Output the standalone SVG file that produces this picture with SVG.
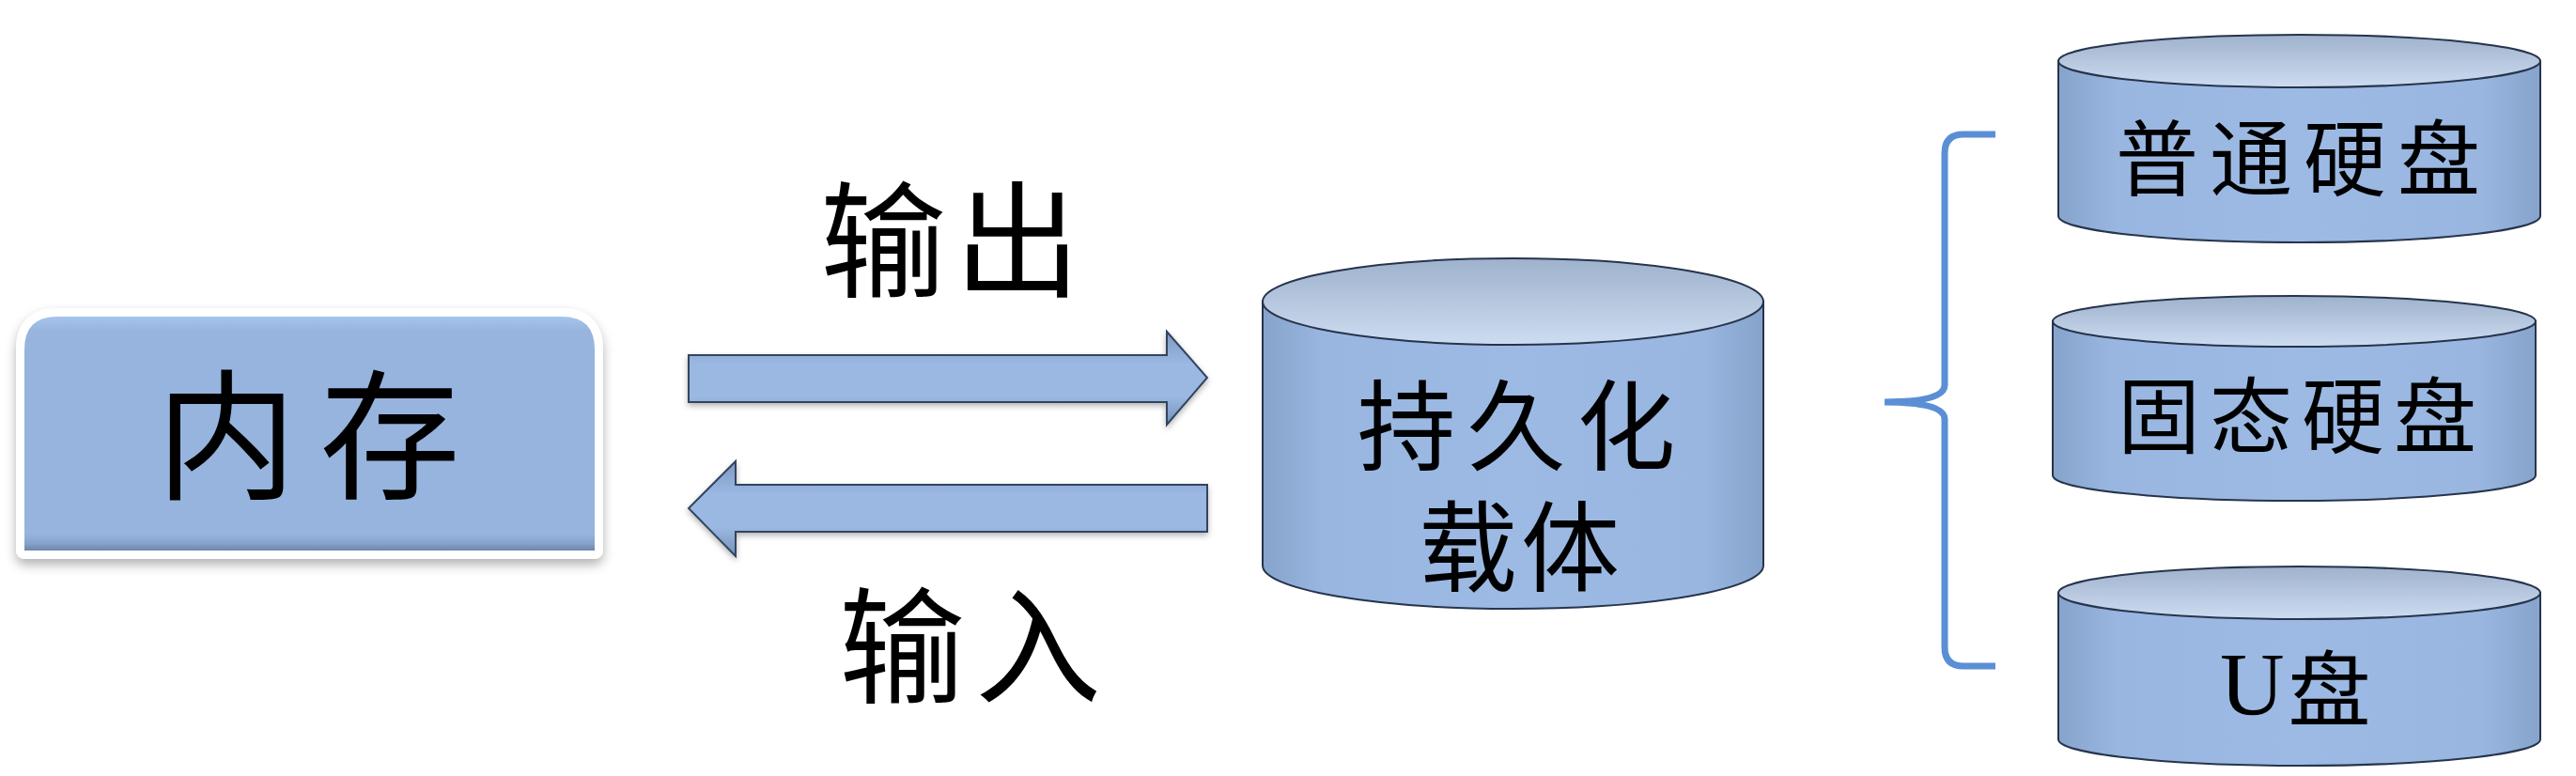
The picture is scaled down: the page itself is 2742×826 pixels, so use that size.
<svg xmlns="http://www.w3.org/2000/svg" width="2742" height="826" viewBox="0 0 2742 826">
<style>
.cjk{font-family:"Noto Sans CJK SC","Noto Sans CJK JP",sans-serif;fill:#000;text-anchor:middle}
.ser{font-family:"Liberation Serif",serif}
.side{fill:url(#sideG);stroke:#26344c;stroke-width:2}
.top{fill:url(#topG);stroke:#26344c;stroke-width:2}
.arrow{fill:url(#arrG);stroke:#33445e;stroke-width:2;stroke-linejoin:miter}
</style>
<defs>
<linearGradient id="sideG" x1="0" y1="0" x2="1" y2="0">
<stop offset="0" stop-color="#86a3cb"/>
<stop offset="0.12" stop-color="#98b6e0"/>
<stop offset="0.5" stop-color="#9cbae4"/>
<stop offset="0.88" stop-color="#98b6e0"/>
<stop offset="1" stop-color="#86a3cb"/>
</linearGradient>
<linearGradient id="topG" x1="0" y1="0" x2="0" y2="1">
<stop offset="0" stop-color="#9fb2cc"/>
<stop offset="1" stop-color="#cddcf1"/>
</linearGradient>
<linearGradient id="arrG" x1="0" y1="0" x2="0" y2="1">
<stop offset="0" stop-color="#7f9ac0"/>
<stop offset="0.35" stop-color="#9ab8e2"/>
<stop offset="0.7" stop-color="#9ab8e2"/>
<stop offset="1" stop-color="#7590b6"/>
</linearGradient>
<linearGradient id="boxG" x1="0" y1="0" x2="0" y2="1">
<stop offset="0" stop-color="#a6c4ee"/>
<stop offset="0.06" stop-color="#96b4de"/>
<stop offset="0.93" stop-color="#96b4de"/>
<stop offset="0.97" stop-color="#85a2ca"/>
<stop offset="1" stop-color="#6d87aa"/>
</linearGradient>
<filter id="shadow" x="-10%" y="-10%" width="120%" height="130%">
<feDropShadow dx="0" dy="6" stdDeviation="6" flood-color="#000" flood-opacity="0.3"/>
</filter>
<filter id="ashadow" x="-5%" y="-30%" width="110%" height="160%">
<feDropShadow dx="0" dy="3" stdDeviation="3" flood-color="#000" flood-opacity="0.3"/>
</filter>
</defs>
<rect width="2742" height="826" fill="#ffffff"/>

<g id="memory">
<path d="M26,586 L26,372 Q26,337 61,337 L598,337 Q633,337 633,372 L633,586 Z" fill="url(#boxG)" stroke="#ffffff" stroke-width="18" stroke-linejoin="round" filter="url(#shadow)"/>
<path d="M26,586 L26,372 Q26,337 61,337 L598,337 Q633,337 633,372 L633,586 Z" fill="url(#boxG)"/>
<text class="cjk" font-size="150" letter-spacing="24" x="340" y="520">内存</text>
</g>

<g id="connectors">
<polygon class="arrow" filter="url(#ashadow)" points="733,378 1242,378 1242,353 1285,402 1242,452 1242,428 733,428"/>
<polygon class="arrow" filter="url(#ashadow)" points="1285,516 783,516 783,491 733,541 783,592 783,566 1285,566"/>
<path d="M2124,143 L2090,143 Q2070,143 2070,163 L2070,410 Q2070,428 2006,428 Q2070,428 2070,446 L2070,689 Q2070,709 2090,709 L2124,709" fill="none" stroke="#5b8fd5" stroke-width="7" stroke-linecap="butt"/>
<text class="cjk" font-size="134" letter-spacing="9" x="1016" y="306">输出</text>
<text class="cjk" font-size="134" letter-spacing="11" x="1038" y="738">输入</text>
</g>

<g id="storage">
<path class="side" d="M1344,321 L1344,602 A266.5,46 0 0 0 1877,602 L1877,321 Z"/>
<ellipse class="top" cx="1610.5" cy="321" rx="266.5" ry="46"/>
<text class="cjk" font-size="105"><tspan letter-spacing="12" x="1620" y="492">持久化</tspan><tspan letter-spacing="4" x="1619" y="621">载体</tspan></text>
</g>

<g id="hdd">
<path class="side" d="M2191,65 L2191,230 A256.5,28 0 0 0 2704,230 L2704,65 Z"/>
<ellipse class="top" cx="2447.5" cy="65" rx="256.5" ry="28"/>
<text class="cjk" font-size="88" letter-spacing="12" x="2452" y="201">普通硬盘</text>
</g>

<g id="ssd">
<path class="side" d="M2185,342 L2185,506 A257,27 0 0 0 2699,506 L2699,342 Z"/>
<ellipse class="top" cx="2442" cy="342" rx="257" ry="27"/>
<text class="cjk" font-size="88" letter-spacing="10" x="2450" y="475">固态硬盘</text>
</g>

<g id="udisk">
<path class="side" d="M2191,631 L2191,787 A256.5,28 0 0 0 2704,787 L2704,631 Z"/>
<ellipse class="top" cx="2447.5" cy="631" rx="256.5" ry="28"/>
<text class="cjk" font-size="88" x="2363" y="766" style="text-anchor:start"><tspan class="ser" font-size="95" dy="-5">U</tspan><tspan dx="4" dy="5">盘</tspan></text>
</g>
</svg>
